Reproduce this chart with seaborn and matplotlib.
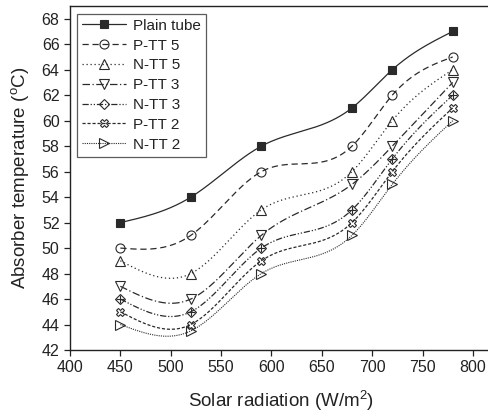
import numpy as np
import pandas as pd
import matplotlib
matplotlib.use('Agg')
import matplotlib.pyplot as plt
import seaborn as sns
from matplotlib.lines import Line2D

# Data
radiation = [450, 520, 590, 680, 720, 780]
plain_tube = [52, 54, 58, 61, 64, 67]
p_tt5 = [50, 51, 56, 58, 62, 65]
n_tt5 = [49, 48, 53, 56, 60, 64]
p_tt3 = [47, 46, 51, 55, 58, 63]
n_tt3 = [46, 45, 50, 53, 57, 62]
p_tt2 = [45, 44, 49, 52, 56, 61]
n_tt2 = [44, 43.5, 48, 51, 55, 60]

series_names = ['Plain tube', 'P-TT 5', 'N-TT 5', 'P-TT 3', 'N-TT 3', 'P-TT 2', 'N-TT 2']
series_values = [plain_tube, p_tt5, n_tt5, p_tt3, n_tt3, p_tt2, n_tt2]

# drawing styles: (marker, filled, dashes, linewidth, overlay marker)
styles = [
    ('s', True, (None, None), 0.9, None),
    ('o', False, (5, 3), 0.9, None),
    ('^', False, (1, 2.2), 0.9, None),
    ('v', False, (6, 2, 1, 2), 0.9, None),
    ('D', False, (5, 1.5, 1, 1.5, 1, 1.5), 0.9, '+'),
    ('X', False, (2.5, 1.5), 0.9, None),
    ('>', False, (1, 1), 0.8, None),
]


def natural_spline(x, y, n=300):
    """Smooth connecting curve through the data points (natural cubic spline)"""
    x = np.asarray(x, float)
    y = np.asarray(y, float)
    k = len(x)
    h = np.diff(x)
    A = np.zeros((k, k))
    b = np.zeros(k)
    A[0, 0] = A[-1, -1] = 1
    for i in range(1, k - 1):
        A[i, i - 1] = h[i - 1]
        A[i, i] = 2 * (h[i - 1] + h[i])
        A[i, i + 1] = h[i]
        b[i] = 6 * ((y[i + 1] - y[i]) / h[i] - (y[i] - y[i - 1]) / h[i - 1])
    M = np.linalg.solve(A, b)
    xs = np.linspace(x[0], x[-1], n)
    idx = np.clip(np.searchsorted(x, xs) - 1, 0, k - 2)
    x0, x1 = x[idx], x[idx + 1]
    hh = x1 - x0
    t0, t1 = x1 - xs, xs - x0
    ys = (M[idx] * t0 ** 3 + M[idx + 1] * t1 ** 3) / (6 * hh) \
        + (y[idx] / hh - M[idx] * hh / 6) * t0 + (y[idx + 1] / hh - M[idx + 1] * hh / 6) * t1
    return xs, ys


sns.set_theme(style='ticks')
plt.rcParams['font.family'] = ['Liberation Sans', 'DejaVu Sans']
plt.rcParams['mathtext.fontset'] = 'custom'
plt.rcParams['mathtext.rm'] = 'Liberation Sans'

fig = plt.figure(figsize=(4.89, 4.19), dpi=100)
ax = fig.add_axes([70 / 489, 69 / 419, 423 / 489, 344 / 419])

col = '#2a2a2a'
handles = []
for name, vals, (mk, filled, dashes, lw, over) in zip(series_names, series_values, styles):
    xs, ys = natural_spline(radiation, vals)
    curve = pd.DataFrame({'x': xs, 'y': ys})
    sns.lineplot(data=curve, x='x', y='y', ax=ax, color=col, linewidth=lw,
                 sort=False, estimator=None)
    line = ax.lines[-1]
    if dashes[0] is not None:
        line.set_dashes(dashes)
    mfc = col if filled else 'none'
    ms = 6 if mk in ('s', 'X') else 6.5
    if mk == 'D':
        ms = 5
    ax.plot(radiation, vals, linestyle='none', marker=mk, markersize=ms,
            markerfacecolor=mfc, markeredgecolor=col, markeredgewidth=0.8)
    if over:
        ax.plot(radiation, vals, linestyle='none', marker=over, markersize=6,
                markeredgecolor=col, markeredgewidth=0.8)
    h = Line2D([], [], color=col, linewidth=lw, marker=mk, markersize=ms,
               markerfacecolor=mfc, markeredgecolor=col, markeredgewidth=0.8)
    if dashes[0] is not None:
        h.set_dashes(dashes)
    handles.append(h)

ax.set_xlim(400, 820)
ax.set_ylim(42, 69)
ax.set_xticks(np.arange(400, 801, 50))
ax.set_yticks(np.arange(42, 69, 2))
ax.tick_params(axis='both', direction='out', length=4.5, width=0.9, labelsize=11.5,
               colors='#222222', pad=3)
for s in ax.spines.values():
    s.set_linewidth(1.0)
    s.set_color('#222222')
ax.spines['right'].set_visible(True)
ax.spines['top'].set_visible(True)

ax.set_xlabel('Solar radiation (W/m$^2$)', fontsize=13.5, labelpad=9, color='#222222')
ax.set_ylabel('Absorber temperature ($^\\mathrm{o}$C)', fontsize=13.5, labelpad=7, color='#222222')

leg = ax.legend(handles, series_names, loc='upper left', bbox_to_anchor=(0.017, 0.977),
                fontsize=11, frameon=True, fancybox=False, handlelength=2.9,
                handletextpad=0.45, borderpad=0.32, labelspacing=0.38, borderaxespad=0)
leg.get_frame().set_edgecolor('#333333')
leg.get_frame().set_linewidth(0.9)
for t in leg.get_texts():
    t.set_color('#222222')

fig.savefig('out.png', dpi=100)
